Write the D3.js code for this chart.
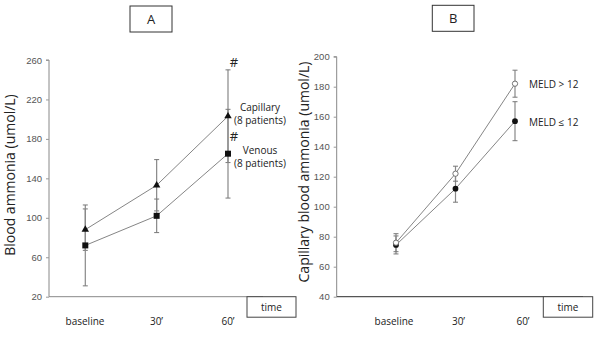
<!DOCTYPE html>
<html><head><meta charset="utf-8">
<script src="https://cdn.jsdelivr.net/npm/d3@7"></script>
<style>body{margin:0;background:#fff}svg{display:block}</style>
</head><body>
<svg id="c" width="600" height="338"></svg>
<script>
// ---- data ----
const categories = ["baseline", "30\u2019", "60\u2019"];
const ticksA = [20, 60, 100, 140, 180, 220, 260];
const ticksB = [40, 60, 80, 100, 120, 140, 160, 180, 200];
const capillaryMean = [88, 133, 203];
const capillaryErr = [21, 26, 47];
const venousMean = [72, 102, 165];
const venousErr = [41, 17, 45];
const meldHighMean = [76, 122, 182];
const meldHighErr = [6, 5, 9];
const meldLowMean = [74.5, 112, 157];
const meldLowErr = [6, 9, 13];

const svg = d3.select("#c");
const tickFont = "'Liberation Sans Narrow','Arial Narrow','Liberation Sans',sans-serif";
const txtFont = "'Open Sans','Noto Sans',sans-serif";

function panel(o) {
  const g = svg.append("g");
  const y = d3.scaleLinear().domain(o.domain).range([296.7, o.yTop]);
  const x = d3.scalePoint().domain(categories).range(o.xPts);
  const xl = d3.scalePoint().domain(categories).range(o.xLab);

  const ya = g.append("g").attr("transform", `translate(${o.x0},0)`)
    .call(d3.axisLeft(y).tickValues(o.ticks).tickSize(3).tickPadding(4));
  ya.select(".domain").attr("stroke", "#888").attr("d", `M-3,${y(o.domain[1])}H0V${y(o.domain[0])}`);
  ya.selectAll(".tick line").attr("stroke", "#999");
  ya.selectAll(".tick text").attr("fill", "#555").style("font-family", tickFont).style("font-size", "9.5px");
  g.append("line").attr("x1", o.x0).attr("x2", o.x1).attr("y1", 296.7).attr("y2", 296.7)
    .attr("stroke", o.xStroke).attr("stroke-width", o.xWidth);
  g.selectAll(".cat").data(categories).join("text")
    .attr("x", d => xl(d)).attr("y", 325).attr("text-anchor", "middle")
    .style("font-family", txtFont).style("font-size", "10px").attr("fill", "#222").text(d => d);
  g.append("rect").attr("x", o.timeBox[0]).attr("y", 296.7).attr("width", o.timeBox[1]).attr("height", 20.5)
    .attr("fill", "#fff").attr("stroke", "#444").attr("stroke-width", 1);
  g.append("text").attr("x", o.timeBox[0] + o.timeBox[1] / 2).attr("y", 310.5).attr("text-anchor", "middle")
    .style("font-family", txtFont).style("font-size", "10px").attr("fill", "#222").text("time");
  g.append("rect").attr("x", o.title[0]).attr("y", o.title[1]).attr("width", o.title[2]).attr("height", 26)
    .attr("fill", "#fff").attr("stroke", "#333").attr("stroke-width", 1);
  g.append("text").attr("x", o.title[0] + o.title[2] / 2).attr("y", o.title[1] + 18).attr("text-anchor", "middle")
    .style("font-family", txtFont).style("font-size", "13px").attr("fill", "#222").text(o.title[3]);
  g.append("text").attr("transform", `translate(${o.ylab[0]},${o.ylab[1]}) rotate(-90)`).attr("text-anchor", "middle")
    .style("font-family", txtFont).style("font-size", "14px").attr("fill", "#222").text(o.ylab[2]);

  o.series.forEach(s => {
    const pts = categories.map((c, i) => ({c, m: s.mean[i], e: s.err[i]}));
    const eb = g.append("g");
    pts.forEach(p => {
      const xx = x(p.c);
      eb.append("line").attr("x1", xx).attr("x2", xx).attr("y1", y(p.m - p.e)).attr("y2", y(p.m + p.e))
        .attr("stroke", "#888").attr("stroke-width", 1.2);
      [p.m - p.e, p.m + p.e].forEach(v => eb.append("line").attr("x1", xx - 2.5).attr("x2", xx + 2.5)
        .attr("y1", y(v)).attr("y2", y(v)).attr("stroke", "#777").attr("stroke-width", 1));
    });
  });
  o.series.forEach(s => {
    const pts = categories.map((c, i) => ({c, m: s.mean[i]}));
    g.append("path").datum(pts).attr("fill", "none").attr("stroke", "#777").attr("stroke-width", 0.9)
      .attr("d", d3.line().x(d => x(d.c)).y(d => y(d.m)));
    g.selectAll(null).data(pts).join("path")
      .attr("transform", d => `translate(${x(d.c)},${y(d.m)})`)
      .attr("d", d3.symbol().type(s.sym).size(s.size))
      .attr("fill", s.fill).attr("stroke", s.stroke).attr("stroke-width", s.sw || 0);
  });
  return {x, y, g};
}

const A = panel({
  domain: [20, 260], ticks: ticksA, yTop: 60, x0: 49, x1: 263,
  xPts: [85.3, 228], xLab: [85, 228], xStroke: "#888", xWidth: 1,
  timeBox: [247, 49], title: [130, 6, 42, "A"],
  ylab: [15, 175, "Blood ammonia (umol/L)"],
  series: [
    {mean: capillaryMean, err: capillaryErr, sym: d3.symbolTriangle, size: 24, fill: "#111", stroke: "none"},
    {mean: venousMean, err: venousErr, sym: d3.symbolSquare, size: 36, fill: "#111", stroke: "none"}
  ]
});
const lab = (g, x, y, t, anchor) => g.append("text").attr("x", x).attr("y", y).attr("text-anchor", anchor || "middle")
  .style("font-family", txtFont).style("font-size", "10px").attr("fill", "#222").text(t);
const hash = (g, x, y) => g.append("text").attr("x", x).attr("y", y).attr("text-anchor", "middle")
  .style("font-family", txtFont).style("font-size", "13px").attr("fill", "#222").text("#");
hash(A.g, A.x("60\u2019") + 6, A.y(capillaryMean[2] + capillaryErr[2]) - 3);
hash(A.g, A.x("60\u2019") + 6, A.y(180) + 2);
lab(A.g, 260, 111, "Capillary");
lab(A.g, 260, 124, "(8 patients)");
lab(A.g, 260, 154, "Venous");
lab(A.g, 260, 167, "(8 patients)");

const B = panel({
  domain: [40, 200], ticks: ticksB, yTop: 56.7, x0: 336.7, x1: 583,
  xPts: [396, 515], xLab: [394, 523], xStroke: "#555", xWidth: 1.3,
  timeBox: [543.3, 49.4], title: [432.3, 5.3, 41.7, "B"],
  ylab: [309, 172, "Capillary blood ammonia (umol/L)"],
  series: [
    {mean: meldLowMean, err: meldLowErr, sym: d3.symbolCircle, size: 26, fill: "#111", stroke: "none"},
    {mean: meldHighMean, err: meldHighErr, sym: d3.symbolCircle, size: 22, fill: "#fff", stroke: "#666", sw: 0.9}
  ]
});
lab(B.g, 529, 88, "MELD > 12", "start");
lab(B.g, 529, 125.5, "MELD \u2264 12", "start");
</script>
</body></html>
